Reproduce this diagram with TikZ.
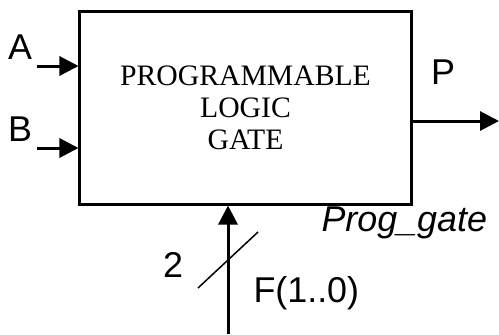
\documentclass[tikz,border=0pt]{standalone}
\usepackage{fontspec}
\setmainfont{Liberation Serif}
\setsansfont{Liberation Sans}
\usetikzlibrary{arrows.meta,positioning}

\begin{document}
\begin{tikzpicture}[x=1bp, y=-1bp, line width=3bp, >={Triangle[length=19bp,width=19bp]}]
  \tikzset{lbl/.style={font=\sffamily\fontsize{36}{38}\selectfont, inner sep=0pt}}
  \useasboundingbox (0,0) rectangle (499,334);

  % Gate
  \node[draw, minimum width=331bp, minimum height=193bp, inner sep=0pt, align=center,
        font=\fontsize{29.8}{32}\selectfont] (gate) at (245.5,107.5) {PROGRAMMABLE\\LOGIC\\GATE};

  % Inputs
  \coordinate (ina) at (37,66);
  \coordinate (inb) at (37,148);
  \draw[->] (ina) -- (ina -| gate.west);
  \draw[->] (inb) -- (inb -| gate.west);
  \node[lbl] (lbla) at (20,47) {A};
  \node[lbl] (lblb) at (20,129.5) {B};

  % Output
  \coordinate (outp) at (499,121);
  \draw[->] (outp -| gate.east) -- (outp);
  \node[lbl] (lblp) at (443,72) {P};

  % Function select
  \coordinate (fin) at (228,334);
  \draw[->] (fin) -- (fin |- gate.south);
  \draw[line width=1.5bp] (198,288) -- (258,232);
  \node[lbl] (lblw) at (173,264.5) {2};
  \node[lbl, anchor=base west] (lblf) at (252,302) {F(1..0)};

  \node[lbl, font=\sffamily\itshape\fontsize{36}{38}\selectfont, anchor=base west] (name) at (320,231) {Prog\_gate};
\end{tikzpicture}
\end{document}
